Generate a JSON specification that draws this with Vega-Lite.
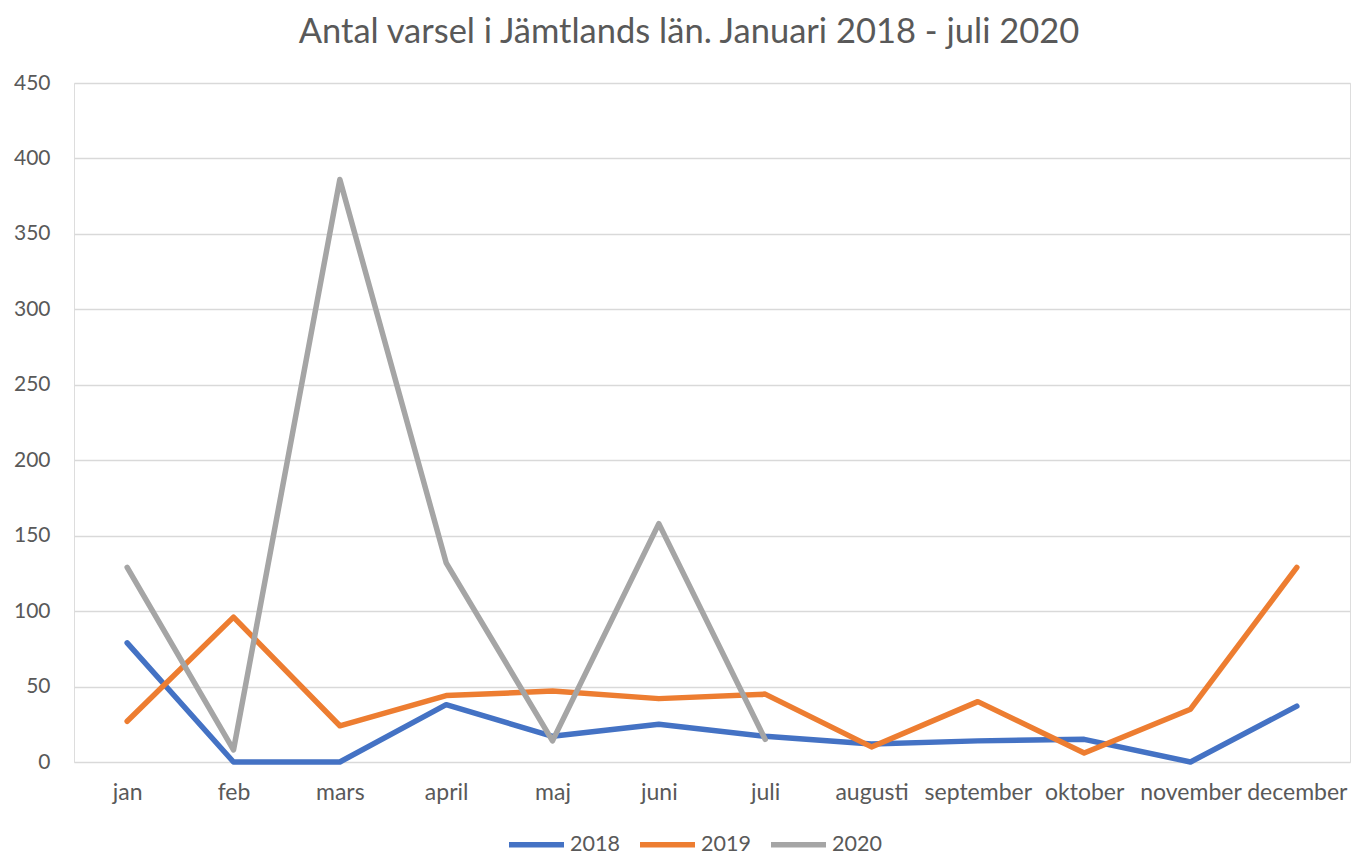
{
  "$schema": "https://vega.github.io/schema/vega-lite/v6.json",
  "width": 1276,
  "height": 679,
  "autosize": {"type": "none"},
  "padding": {"left": 74, "top": 83, "right": 2, "bottom": 93},
  "background": "white",
  "title": {
    "text": "Antal varsel i Jämtlands län. Januari 2018 - juli 2020",
    "font": "Lato",
    "fontSize": 34.5,
    "fontWeight": "normal",
    "color": "#595959",
    "anchor": "middle",
    "dx": -23,
    "offset": 22
  },
  "data": {
    "values": [
      {"month": "jan", "year": "2018", "value": 79},
      {"month": "feb", "year": "2018", "value": 0},
      {"month": "mars", "year": "2018", "value": 0},
      {"month": "april", "year": "2018", "value": 38},
      {"month": "maj", "year": "2018", "value": 17},
      {"month": "juni", "year": "2018", "value": 25},
      {"month": "juli", "year": "2018", "value": 17},
      {"month": "augusti", "year": "2018", "value": 12},
      {"month": "september", "year": "2018", "value": 14},
      {"month": "oktober", "year": "2018", "value": 15},
      {"month": "november", "year": "2018", "value": 0},
      {"month": "december", "year": "2018", "value": 37},
      {"month": "jan", "year": "2019", "value": 27},
      {"month": "feb", "year": "2019", "value": 96},
      {"month": "mars", "year": "2019", "value": 24},
      {"month": "april", "year": "2019", "value": 44},
      {"month": "maj", "year": "2019", "value": 47},
      {"month": "juni", "year": "2019", "value": 42},
      {"month": "juli", "year": "2019", "value": 45},
      {"month": "augusti", "year": "2019", "value": 10},
      {"month": "september", "year": "2019", "value": 40},
      {"month": "oktober", "year": "2019", "value": 6},
      {"month": "november", "year": "2019", "value": 35},
      {"month": "december", "year": "2019", "value": 129},
      {"month": "jan", "year": "2020", "value": 129},
      {"month": "feb", "year": "2020", "value": 8},
      {"month": "mars", "year": "2020", "value": 386},
      {"month": "april", "year": "2020", "value": 132},
      {"month": "maj", "year": "2020", "value": 14},
      {"month": "juni", "year": "2020", "value": 158},
      {"month": "juli", "year": "2020", "value": 15}
    ]
  },
  "mark": {"type": "line", "strokeWidth": 5.5, "strokeCap": "round", "strokeJoin": "round"},
  "encoding": {
    "x": {
      "field": "month",
      "type": "ordinal",
      "sort": ["jan", "feb", "mars", "april", "maj", "juni", "juli", "augusti", "september", "oktober", "november", "december"],
      "scale": {"type": "point", "padding": 0.5},
      "axis": {
        "title": null,
        "labelAngle": 0,
        "labelFont": "Lato",
        "labelFontSize": 23,
        "labelColor": "#595959",
        "ticks": false,
        "domain": false,
        "grid": false,
        "labelPadding": 19
      }
    },
    "y": {
      "field": "value",
      "type": "quantitative",
      "scale": {"domain": [0, 450], "nice": false},
      "axis": {
        "title": null,
        "values": [0, 50, 100, 150, 200, 250, 300, 350, 400, 450],
        "labelFont": "Lato",
        "labelFontSize": 21,
        "labelColor": "#595959",
        "ticks": false,
        "domain": false,
        "grid": true,
        "gridColor": "#D9D9D9",
        "gridWidth": 1.5,
        "labelPadding": 24
      }
    },
    "color": {
      "field": "year",
      "type": "nominal",
      "scale": {"domain": ["2018", "2019", "2020"], "range": ["#4472C4", "#ED7D31", "#A5A5A5"]},
      "legend": {
        "title": null,
        "orient": "none",
        "direction": "horizontal",
        "legendX": 432,
        "legendY": 731,
        "padding": 0,
        "symbolType": "stroke",
        "symbolSize": 3025,
        "symbolStrokeWidth": 5.5,
        "labelFont": "Lato",
        "labelFontSize": 21.5,
        "labelColor": "#595959",
        "labelOffset": 3,
        "columnPadding": 9
      }
    }
  }
}
